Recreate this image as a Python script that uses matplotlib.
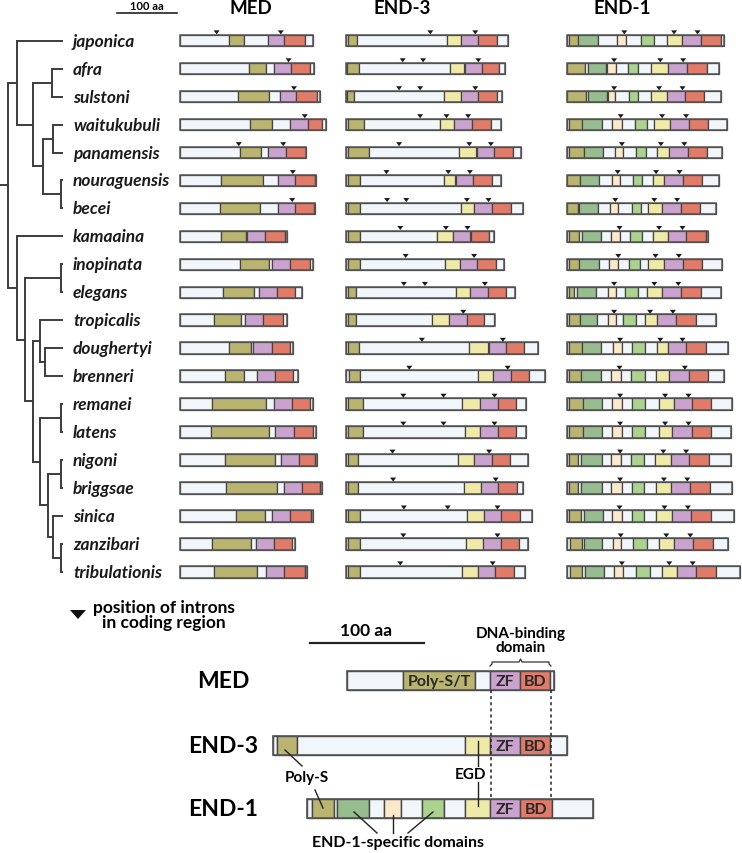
import matplotlib
matplotlib.use("Agg")
import matplotlib.pyplot as plt
from matplotlib.patches import Rectangle, Polygon

plt.rcParams["font.family"] = ["Lato", "DejaVu Sans"]

# ---- data -------------------------------------------------------------
species = ["japonica", "afra", "sulstoni", "waitukubuli", "panamensis",
           "nouraguensis", "becei", "kamaaina", "inopinata", "elegans",
           "tropicalis", "doughertyi", "brenneri", "remanei", "latens",
           "nigoni", "briggsae", "sinica", "zanzibari", "tribulationis"]

# segment codes: L plain, S poly-S(/T), G / H END-1 specific (green),
# E END-1 specific (pale), Y EGD, Z zinc finger, B basic domain
# positions are segment end points in aa from the start of the protein
med_kinds = ["LSLZBL"] * 4 + ["LSLZB"] + ["LSLZBL"] * 15
med_ends = [
    [81, 107, 146, 174, 208, 222], [115, 143, 157, 185, 217, 224],
    [97, 148, 167, 194, 228, 234], [117, 153, 184, 213, 236, 244],
    [100, 135, 147, 177, 210], [69, 138, 164, 192, 225, 226],
    [66, 134, 163, 191, 224, 225], [69, 110, 112, 142, 175, 179],
    [100, 149, 154, 184, 217, 222], [72, 123, 131, 161, 191, 203],
    [57, 102, 108, 139, 172, 178], [82, 118, 122, 153, 184, 189],
    [75, 106, 128, 158, 189, 196], [54, 144, 156, 186, 216, 222],
    [52, 148, 159, 190, 221, 226], [75, 159, 168, 199, 225, 229],
    [77, 162, 173, 204, 234, 237], [93, 141, 154, 184, 219, 222],
    [54, 119, 126, 156, 186, 191], [57, 129, 144, 174, 209, 211]]
med_introns = [[61, 168], [181], [190], [208], [98, 172], [188], [187],
               [], [], [], [], [], [], [], [], [], [], [], [], []]

end3_kinds = ["LSLYZBL"] * 20
end3_ends = [
    [3, 18, 168, 192, 221, 252, 270], [2, 22, 174, 198, 227, 256, 266],
    [2, 13, 164, 192, 221, 252, 260], [3, 31, 157, 181, 210, 242, 259],
    [3, 38, 189, 218, 247, 279, 292], [3, 23, 164, 183, 212, 243, 259],
    [3, 23, 192, 214, 243, 275, 295], [3, 23, 152, 179, 208, 239, 247],
    [3, 23, 166, 191, 219, 250, 264], [3, 17, 184, 207, 237, 267, 282],
    [3, 17, 143, 172, 202, 231, 248], [3, 22, 206, 238, 267, 297, 321],
    [6, 23, 220, 246, 275, 306, 332], [3, 29, 194, 224, 253, 283, 301],
    [3, 29, 199, 224, 253, 283, 301], [3, 20, 187, 214, 243, 274, 303],
    [3, 21, 197, 225, 254, 285, 295], [3, 23, 202, 231, 259, 290, 311],
    [3, 23, 200, 228, 258, 288, 303], [4, 24, 194, 221, 249, 280, 298]]
end3_introns = [[141, 216], [95, 129, 221], [89, 124, 216], [124, 168, 204],
                [89, 206, 242], [68, 171, 207], [69, 101, 202, 238],
                [91, 167, 203], [100, 214], [97, 132, 232], [196],
                [127, 262], [106, 270], [96, 163, 248], [96, 163, 248],
                [78, 239], [79, 250], [97, 170, 253], [96, 253], [91, 245]]

end1_kinds = ["LSGLELHLYZBL", "SLGLELHLYZBL", "SLGLELHLYZBL", "LSGLELHLYZBL",
              "LSGLELHLYZBL", "SGLELHLYZBL", "SLGLELHLYZBL", "LSLGLELHLYZBL",
              "LSGLELHLYZBL", "LSLGLELHLYZBL", "LSGLELHLYZBL", "LSGLELHLYZBL",
              "LSGLELHLYZBL", "LSGLELHLYZBL", "LSGLELHLYZBL", "LSLGLELHLYZBL",
              "LSLGLELHLYZBL", "LSLGLELHLYZBL", "LSLGLELHLYZBL", "LSLGLELHLYZBL"]
end1_ends = [
    [4, 19, 52, 83, 99, 124, 146, 167, 192, 223, 257, 262],
    [31, 35, 65, 67, 82, 102, 119, 141, 169, 200, 233, 253],
    [32, 36, 67, 68, 81, 103, 119, 140, 167, 197, 229, 257],
    [4, 26, 58, 76, 92, 113, 133, 146, 172, 204, 236, 267],
    [4, 29, 60, 81, 93, 115, 132, 151, 171, 202, 234, 259],
    [22, 54, 76, 88, 111, 126, 143, 162, 193, 226, 253],
    [18, 21, 52, 72, 86, 109, 124, 136, 159, 190, 222, 249],
    [4, 21, 25, 57, 74, 89, 106, 125, 144, 168, 199, 232, 235],
    [4, 21, 54, 71, 86, 103, 122, 136, 162, 193, 225, 258],
    [3, 12, 17, 48, 69, 82, 97, 118, 134, 159, 191, 223, 257],
    [4, 22, 51, 68, 82, 93, 115, 131, 151, 182, 216, 248],
    [4, 25, 57, 77, 92, 108, 131, 150, 168, 199, 232, 269],
    [4, 23, 57, 74, 90, 107, 131, 148, 171, 203, 235, 262],
    [4, 27, 59, 76, 92, 108, 131, 154, 178, 208, 241, 276],
    [4, 27, 59, 76, 92, 108, 131, 154, 176, 208, 241, 274],
    [4, 19, 24, 58, 74, 90, 107, 128, 147, 173, 204, 237, 274],
    [4, 19, 24, 58, 74, 92, 109, 129, 148, 174, 206, 238, 275],
    [4, 23, 28, 60, 75, 92, 109, 129, 149, 175, 207, 240, 279],
    [6, 25, 29, 59, 77, 91, 111, 133, 154, 179, 210, 243, 268],
    [6, 26, 31, 62, 79, 93, 116, 138, 159, 184, 216, 248, 288]]
end1_introns = [[96, 179, 218], [79, 156, 194], [79, 154, 193], [90, 159, 199],
                [92, 157, 196], [85, 149, 188], [81, 146, 184], [88, 154, 193],
                [86, 148, 187], [79, 146, 186], [79, 139, 177], [89, 156, 193],
                [88, 197], [89, 164, 203], [89, 164, 203], [89, 161, 199],
                [89, 162, 201], [88, 163, 202], [90, 166, 206], [92, 171, 210]]

# node x (branch depth) and children; leaves are species names
tree = (8, [
    (17, ["japonica",
          (33, [(52, ["afra", "sulstoni"]),
                (43, [(53, ["waitukubuli", "panamensis"]),
                      (61, ["nouraguensis", "becei"])])])]),
    (17, ["kamaaina",
          (25, [(61, ["inopinata", "elegans"]),
                (33, [(40, ["tropicalis", (45, ["doughertyi", "brenneri"])]),
                      (40, [(61, ["remanei", "latens"]),
                            (48, [(61, ["nigoni", "briggsae"]),
                                  (53, ["sinica",
                                        (61, ["zanzibari", "tribulationis"])])])])])])]),
])

gene_titles = ["MED", "END-3", "END-1"]

# schematic (key) proteins
key_names = ["MED", "END-3", "END-1"]
key_kinds = ["LSLZBL", "LSLYZBL", "LSLGLELHLYZBL"]
key_ends = [[49, 113, 126, 152, 179, 182],
            [3, 21, 169, 191, 217, 244, 259],
            [5, 24, 27, 55, 68, 83, 101, 121, 139, 161, 188, 216, 252]]

COLORS = {"L": "#f1f6fb", "S": "#b9b46f", "G": "#97bc90", "H": "#acd28f",
          "E": "#fce8cb", "Y": "#f0eaa9", "Z": "#c9a3cd", "B": "#e07a69"}
EDGE = "#454545"

# ---- layout -----------------------------------------------------------
fig = plt.figure(figsize=(7.42, 8.54), dpi=100)
ax = fig.add_axes([0, 0, 1, 1])
ax.set_xlim(0, 742)
ax.set_ylim(854, 0)
ax.axis("off")

row_y = [41.7 + 27.95 * i for i in range(len(species))]
col_x0 = [180, 345.7, 566.7]
SCALE = 0.6       # px per aa, top panel
BAR_H = 11.5
LEAF_X = 63


def draw_protein(x0, yc, kinds, ends, introns, scale, h, lw=0.9):
    start = 0
    for k, e in zip(kinds, ends):
        ax.add_patch(Rectangle((x0 + start * scale, yc - h / 2), (e - start) * scale, h,
                               facecolor=COLORS[k], edgecolor=EDGE, lw=lw))
        start = e
    ax.add_patch(Rectangle((x0, yc - h / 2), ends[-1] * scale, h, fill=False,
                           edgecolor="#555555", lw=lw + 0.2))
    for p in introns:
        xp = x0 + p * scale
        top = yc - h / 2
        ax.add_patch(Polygon([(xp - 3, top - 4.6), (xp + 3, top - 4.6), (xp, top - 0.6)],
                             closed=True, facecolor="#1a1a1a", edgecolor="none"))


def draw_node(node):
    if isinstance(node, str):
        return LEAF_X, row_y[species.index(node)]
    x, children = node
    ys = []
    for ch in children:
        cx, cy = draw_node(ch)
        ax.plot([x, cx], [cy, cy], color="#3c3c3c", lw=1.4, solid_capstyle="butt")
        ys.append(cy)
    ax.plot([x, x], [min(ys), max(ys)], color="#3c3c3c", lw=1.4, solid_capstyle="projecting")
    return x, (min(ys) + max(ys)) / 2


rx, ry = draw_node(tree)
ax.plot([0, rx], [ry, ry], color="#3c3c3c", lw=1.4)

for i, name in enumerate(species):
    ax.text(73, row_y[i], name, fontsize=12.5, fontweight="bold", fontstyle="italic",
            va="center", ha="left", color="#1a1a1a")

# top scale bar and column titles
ax.plot([117, 117 + 100 * SCALE], [14, 14], color="#222222", lw=1.2)
ax.text(147, 6.5, "100 aa", fontsize=8, fontweight="bold", ha="center", va="center")
for t, cx in zip(gene_titles, [251, 402, 622]):
    ax.text(cx, 9, t, fontsize=13.5, fontweight="bold", ha="center", va="center")

for i in range(len(species)):
    draw_protein(col_x0[0], row_y[i], med_kinds[i], med_ends[i], med_introns[i], SCALE, BAR_H)
    draw_protein(col_x0[1], row_y[i], end3_kinds[i], end3_ends[i], end3_introns[i], SCALE, BAR_H)
    draw_protein(col_x0[2], row_y[i], end1_kinds[i], end1_ends[i], end1_introns[i], SCALE, BAR_H)

# ---- key --------------------------------------------------------------
ax.add_patch(Polygon([(70, 611), (86, 611), (78, 620)], closed=True,
                     facecolor="#111111", edgecolor="none"))
ax.text(164, 615.5, "position of introns\nin coding region", fontsize=12.5, fontweight="bold",
        ha="center", va="center", linespacing=0.95)

KEY_SCALE = 1.136
ax.plot([310, 310 + 100 * KEY_SCALE], [644, 644], color="#222222", lw=1.6)
ax.text(366, 631, "100 aa", fontsize=12.5, fontweight="bold", ha="center", va="center")
ax.text(521, 641, "DNA-binding\ndomain", fontsize=11, fontweight="bold",
        ha="center", va="center", linespacing=1.0)
ax.plot([490, 492, 492, 519, 520.5, 522, 549, 549, 551],
        [667, 665, 663, 663, 660, 663, 663, 665, 667], color="#333333", lw=0.9)

key_x0 = [347.1, 273.2, 306.8]
key_y = [681.5, 746.5, 809.5]
KEY_H = 19
for name, x0, yc, kinds, ends in zip(key_names, key_x0, key_y, key_kinds, key_ends):
    draw_protein(x0, yc, kinds, ends, [], KEY_SCALE, KEY_H, lw=1.0)
    ax.text(223, yc, name, fontsize=16.5, fontweight="bold", ha="center", va="center")
    start = 0
    for k, e in zip(kinds, ends):
        cx = x0 + (start + e) / 2 * KEY_SCALE
        if k == "Z":
            ax.text(cx, yc + 0.5, "ZF", fontsize=11.5, fontweight="bold", ha="center", va="center", color="#2a2a2a")
        elif k == "B":
            ax.text(cx, yc + 0.5, "BD", fontsize=11.5, fontweight="bold", ha="center", va="center", color="#2a2a2a")
        elif k == "S" and name == "MED":
            ax.text(cx, yc + 0.5, "Poly-S/T", fontsize=11.5, fontweight="bold", ha="center", va="center", color="#2a2a2a")
        start = e

# dotted guides for DNA-binding domain
for gx in [490.5, 551]:
    ax.plot([gx, gx], [691, 800], color="#222222", lw=1.1, ls=(0, (2, 2)))

ax.text(307, 778.5, "Poly-S", fontsize=11, fontweight="bold", ha="center", va="center")
ax.plot([285, 302], [751, 767], color="#222222", lw=1.0)
ax.plot([315, 323], [791, 809], color="#222222", lw=1.0)

ax.text(471, 775, "EGD", fontsize=11, fontweight="bold", ha="center", va="center")
ax.plot([477.5, 477.5], [742, 767], color="#222222", lw=1.0)
ax.plot([477.5, 477.5], [783, 807], color="#222222", lw=1.0)

ax.text(398.5, 843.5, "END-1-specific domains", fontsize=11.5, fontweight="bold",
        ha="center", va="center")
ax.plot([377, 354], [834, 813], color="#222222", lw=1.0)
ax.plot([392.5, 392.5], [834, 816], color="#222222", lw=1.0)
ax.plot([408, 433], [834, 813], color="#222222", lw=1.0)

fig.savefig("out.png", dpi=100)
